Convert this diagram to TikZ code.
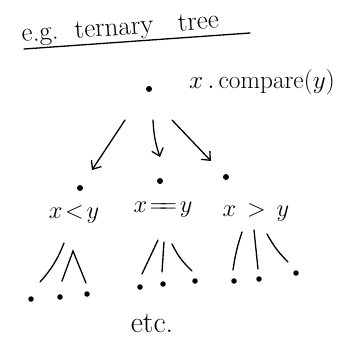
\documentclass[tikz,border=0pt]{standalone}
\usepackage{graphicx}
\usetikzlibrary{arrows.meta}
\tikzset{
  dotnode/.style={circle,fill=black,inner sep=0pt,minimum size=6pt},
  leafdot/.style={circle,fill=black,inner sep=0pt,minimum size=5.5pt},
  lbl/.style={inner sep=0pt,font=\fontsize{22}{24}\selectfont},
  hand/.style={line width=1.3pt,line cap=round},
  arr/.style={hand,-{Straight Barb[length=7pt,width=12pt]}}
}
\begin{document}
\begin{tikzpicture}[x=1pt,y=-1pt]
\useasboundingbox (0,0) rectangle (343,349);
% title
\node[inner sep=0pt,font=\fontsize{27}{30}\selectfont,anchor=base west,rotate=4] (title) at (22,42) {e.g.\ \ ternary \ \ tree};
\coordinate (ul1) at (24,49);
\coordinate (ul2) at (250,33);
\draw[hand] (ul1) -- (ul2);
% root
\node[dotnode] (root) at (149,89) {};
\node[lbl] (cmp) at (262,82) {\scalebox{1.22}{$x\,.\,\mathrm{compare}(y)$}};
% level 2
\node[dotnode] (l) at (80,188) {};
\node[dotnode] (m) at (160,181) {};
\node[dotnode] (r) at (226,177) {};
\coordinate (la) at (125,120);
\coordinate (ma) at (153,120);
\coordinate (ra) at (172,120);
\coordinate (lb) at (92,170);
\coordinate (mb) at (160,157);
\coordinate (rb) at (211,161);
\draw[arr] (la) -- (lb);
\draw[arr] (ma) to[bend right=8] (mb);
\draw[arr] (ra) -- (rb);
\node[lbl] (lt) at (74,214) {\scalebox{1.18}{$x\!<\!y$}};
\node[lbl] (eq) at (163,210) {\scalebox{1.18}{$x\!=\!\!=\!y$}};
\node[lbl] (gt) at (256,212) {\scalebox{1.18}{$x\,>\,y$}};
% leaves left
\node[leafdot] (l1) at (31,299) {};
\node[leafdot] (l2) at (60,297) {};
\node[leafdot] (l3) at (87,294) {};
\coordinate (l1t) at (64,243);
\coordinate (l1b) at (40,282);
\coordinate (l23t) at (73,251);
\coordinate (l2b) at (62,281);
\coordinate (l3b) at (86,283);
\draw[hand] (l1t) to[bend left=10] (l1b);
\draw[hand] (l2b) -- (l23t) -- (l3b);
% leaves middle
\node[leafdot] (m1) at (140,287) {};
\node[leafdot] (m2) at (163,284) {};
\node[leafdot] (m3) at (195,281) {};
\coordinate (m1t) at (158,240);
\coordinate (m1b) at (142,274);
\coordinate (m2t) at (164,242);
\coordinate (m2b) at (162,272);
\coordinate (m3t) at (172,244);
\coordinate (m3b) at (192,271);
\draw[hand] (m1t) -- (m1b);
\draw[hand] (m2t) -- (m2b);
\draw[hand] (m3t) to[bend right=10] (m3b);
% leaves right
\node[leafdot] (r1) at (234,281) {};
\node[leafdot] (r2) at (259,279) {};
\node[leafdot] (r3) at (296,273) {};
\coordinate (r1t) at (242,232);
\coordinate (r1b) at (233,270);
\coordinate (r2t) at (254,230);
\coordinate (r2b) at (258,269);
\coordinate (r3t) at (267,234);
\coordinate (r3b) at (288,262);
\draw[hand] (r1t) to[bend right=5] (r1b);
\draw[hand] (r2t) -- (r2b);
\draw[hand] (r3t) to[bend right=8] (r3b);
% etc
\node[inner sep=0pt,font=\fontsize{30}{32}\selectfont] (etc) at (152,323) {etc.};
\end{tikzpicture}
\end{document}
